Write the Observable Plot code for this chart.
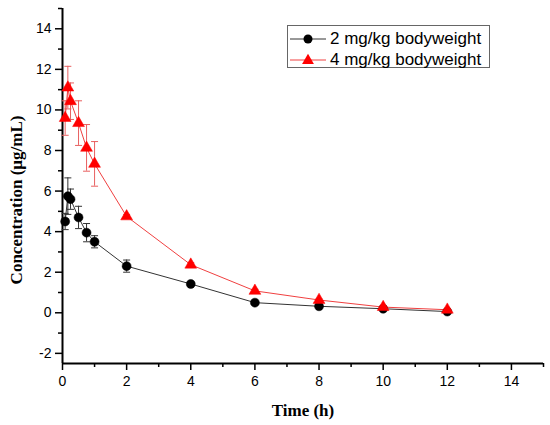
<!DOCTYPE html>
<html>
<head>
<meta charset="utf-8">
<script src="https://cdn.jsdelivr.net/npm/d3@7"></script>
<script src="https://cdn.jsdelivr.net/npm/@observablehq/plot@0.6"></script>
<style>
  body { margin: 0; background: #fff; }
  #wrap { position: relative; width: 550px; height: 425px; }
  #legend { position: absolute; left: 287px; top: 25px; width: 203px; height: 43px;
    border: 1px solid #666; background: #fff; font-family: "Liberation Sans", Arial, sans-serif;
    font-size: 17px; color: #000; box-sizing: border-box; }
  .row { position: absolute; left: 0; height: 20px; display: flex; align-items: center; }
  .row svg { display: block; }
  .row span { margin-left: 4px; white-space: nowrap; }
</style>
</head>
<body>
<div id="wrap"></div>
<script>
const times = [0.083, 0.167, 0.25, 0.5, 0.75, 1, 2, 4, 6, 8, 10, 12];
const dose2Mean = [4.5, 5.75, 5.6, 4.7, 3.95, 3.5, 2.3, 1.42, 0.5, 0.32, 0.2, 0.06];
const dose2Err  = [0.4, 0.9, 0.5, 0.55, 0.45, 0.3, 0.3, 0.1, 0.08, 0.05, 0.05, 0.03];
const dose4Mean = [9.6, 11.1, 10.43, 9.35, 8.13, 7.34, 4.75, 2.37, 1.08, 0.63, 0.28, 0.15];
const dose4Err  = [0.85, 1.05, 0.9, 1.1, 1.15, 1.1, 0.1, 0.1, 0.08, 0.05, 0.05, 0.03];
const seriesNames = ["2 mg/kg bodyweight", "4 mg/kg bodyweight"];
const xMajorTicks = [0, 2, 4, 6, 8, 10, 12, 14];
const xMinorTicks = [1, 3, 5, 7, 9, 11, 13, 15];
const yMajorTicks = [-2, 0, 2, 4, 6, 8, 10, 12, 14];
const yMinorTicks = [-1, 1, 3, 5, 7, 9, 11, 13, 15];

const d2 = times.map((t, i) => ({t, mean: dose2Mean[i], err: dose2Err[i]}));
const d4 = times.map((t, i) => ({t, mean: dose4Mean[i], err: dose4Err[i]}));

const cap = {draw(ctx, size) { const r = Math.sqrt(size / Math.PI); ctx.moveTo(-r, 0); ctx.lineTo(r, 0); }};
const black = "#000";
const blackLine = "#333";
const red = "#ff0000";
const redLine = "#f04040";
const redErr = "#e86060";

function errMarks(data, color) {
  return [
    Plot.ruleX(data, {x: "t", y1: d => d.mean - d.err, y2: d => d.mean + d.err, stroke: color, strokeWidth: 1}),
    Plot.dot(data, {x: "t", y: d => d.mean + d.err, symbol: cap, r: 3.5, stroke: color, fill: "none", strokeWidth: 1}),
    Plot.dot(data, {x: "t", y: d => d.mean - d.err, symbol: cap, r: 3.5, stroke: color, fill: "none", strokeWidth: 1})
  ];
}

const chart = Plot.plot({
  width: 550,
  height: 425,
  marginLeft: 62,
  marginRight: 7,
  marginTop: 8,
  marginBottom: 62,
  style: {fontFamily: "'Liberation Sans', Arial, sans-serif", fontSize: "14px", color: "#000", background: "#fff"},
  x: {domain: [0, 15]},
  y: {domain: [-2.5, 15]},
  marks: [
    Plot.axisX({ticks: xMajorTicks, tickSize: 7, tickPadding: 6, tickFormat: d => String(d), label: null, strokeWidth: 1.5}),
    Plot.axisX({ticks: xMinorTicks, tickSize: 4, tickFormat: () => "", label: null, strokeWidth: 1.5}),
    Plot.axisY({ticks: yMajorTicks, tickSize: 7, tickPadding: 4, tickFormat: d => String(d), label: null, strokeWidth: 1.5}),
    Plot.axisY({ticks: yMinorTicks, tickSize: 4, tickFormat: () => "", label: null, strokeWidth: 1.5}),
    Plot.ruleX([0], {stroke: "#000", strokeWidth: 2}),
    Plot.ruleY([-2.5], {stroke: "#000", strokeWidth: 2}),
    ...errMarks(d2, blackLine),
    ...errMarks(d4, redErr),
    Plot.line(d2, {x: "t", y: "mean", stroke: blackLine, strokeWidth: 1}),
    Plot.line(d4, {x: "t", y: "mean", stroke: redLine, strokeWidth: 1}),
    Plot.dot(d2, {x: "t", y: "mean", r: 4.5, fill: black, stroke: black, strokeWidth: 0.5}),
    Plot.dot(d4, {x: "t", y: "mean", symbol: "triangle", r: 4.4, fill: red, stroke: red, strokeWidth: 0.5}),
    Plot.text(["Time (h)"], {frameAnchor: "bottom", dy: 47, lineAnchor: "middle", fontFamily: "'Liberation Serif', 'Times New Roman', serif", fontWeight: "bold", fontSize: 17}),
    Plot.text(["Concentration (\u03bcg/mL)"], {frameAnchor: "left", textAnchor: "middle", dx: -46, dy: 14, rotate: -90, lineAnchor: "middle", fontFamily: "'Liberation Serif', 'Times New Roman', serif", fontWeight: "bold", fontSize: 17})
  ]
});

const wrap = document.getElementById("wrap");
wrap.appendChild(chart);

const legend = document.createElement("div");
legend.id = "legend";
const rows = [
  {name: seriesNames[0], line: blackLine, sym: "circle", color: black, top: 3},
  {name: seriesNames[1], line: redLine, sym: "triangle", color: red, top: 24}
];
for (const r of rows) {
  const row = document.createElement("div");
  row.className = "row";
  row.style.top = r.top + "px";
  const marker = r.sym === "circle"
    ? `<circle cx="20" cy="10" r="4.5" fill="${r.color}"/>`
    : `<path transform="translate(20,10.5)" d="${d3.symbol(d3.symbolTriangle, Math.PI * 4.4 * 4.4)()}" fill="${r.color}"/>`;
  row.innerHTML = `<svg width="38" height="20"><line x1="2" x2="38" y1="10" y2="10" stroke="${r.line}" stroke-width="1"/>${marker}</svg><span>${r.name}</span>`;
  legend.appendChild(row);
}
wrap.appendChild(legend);
</script>
</body>
</html>
